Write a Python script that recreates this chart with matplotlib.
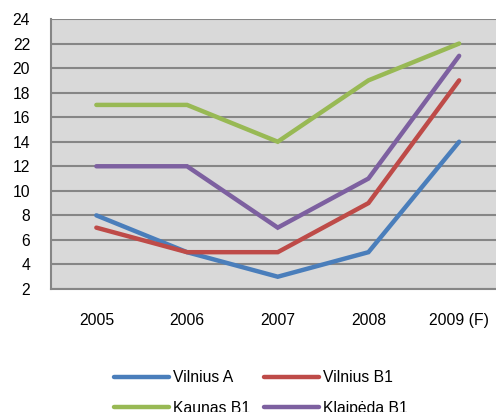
import matplotlib
matplotlib.use("Agg")
import matplotlib.pyplot as plt

plt.rcParams['font.family'] = ['Liberation Sans', 'DejaVu Sans']

years = ["2005", "2006", "2007", "2008", "2009 (F)"]
vilnius_a = [8, 5, 3, 5, 14]
vilnius_b1 = [7, 5, 5, 9, 19]
kaunas_b1 = [17, 17, 14, 19, 22]
klaipeda_b1 = [12, 12, 7, 11, 21]
series_names = ["Vilnius A", "Vilnius B1", "Kaunas B1", "Klaipėda B1"]
colors = ["#4a7ebb", "#be4b48", "#98b954", "#7d60a0"]
yticks = [2, 4, 6, 8, 10, 12, 14, 16, 18, 20, 22, 24]

W, H = 496, 412
fig = plt.figure(figsize=(W / 100, H / 100), dpi=100)
left, right, top, bottom = 51, 504.5, 19, 289
ax = fig.add_axes([left / W, 1 - bottom / H, (right - left) / W, (bottom - top) / H])
ax.set_facecolor("#d9d9d9")

x = list(range(len(years)))
handles = []
for vals, name, c in zip([vilnius_a, vilnius_b1, kaunas_b1, klaipeda_b1], series_names, colors):
    ln, = ax.plot(x, vals, color=c, lw=3.2, solid_capstyle="round", solid_joinstyle="miter", label=name, zorder=3)
    handles.append(ln)

ax.set_xlim(-0.5, len(years) - 0.5)
ax.set_ylim(2, 24)
ax.set_yticks(yticks)
ax.set_xticks(x)
ax.set_xticklabels(years)
ax.tick_params(axis="both", length=0, labelsize=11.3, colors="black")
ax.tick_params(axis="y", pad=15)
ax.tick_params(axis="x", pad=17)
ax.yaxis.grid(True, color="#868686", lw=1.5)
ax.set_axisbelow(True)
for s in ["top", "right"]:
    ax.spines[s].set_visible(False)
for s in ["left", "bottom"]:
    ax.spines[s].set_color("#868686")
    ax.spines[s].set_linewidth(1.5)

# legend fills column-wise: reorder so rows read Vilnius A, Vilnius B1 / Kaunas B1, Klaipėda B1
order = [0, 2, 1, 3]
leg = fig.legend(handles=[handles[i] for i in order], labels=[series_names[i] for i in order],
                 ncol=2, loc="upper left",
                 bbox_to_anchor=(100 / W, 1 - 356 / H), frameon=False,
                 fontsize=11.3, handlelength=3.5, handletextpad=0.25,
                 columnspacing=0.9, labelspacing=1.0)

fig.savefig("out.png", dpi=100)
